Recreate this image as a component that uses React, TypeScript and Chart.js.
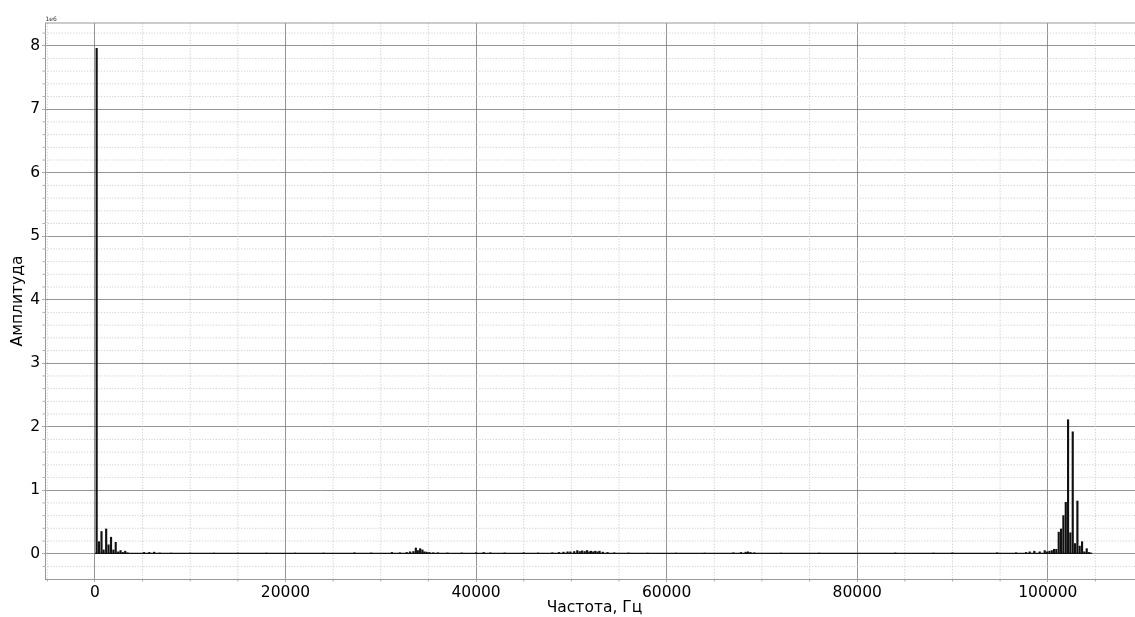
import React, { useEffect, useRef } from "react";
import { Chart, registerables } from "chart.js";

Chart.register(...registerables);

// Spectrum bars: frequency (Hz) and amplitude (in units of 1e6)
const freqHz = [
  180, 420, 690, 910, 1180, 1430, 1690, 1940, 2180, 2440, 2690, 2930, 3180, 3420,
  5150, 5700, 6220, 6800, 8000, 10000, 12500, 15000, 18000, 21000, 24000,
  27240, 29000, 31170, 32000, 32720, 33070, 33420, 33680, 33890, 34130, 34370, 34580,
  34820, 35100, 35500, 36000, 37000, 38500, 40000, 40800, 41500, 43000, 45000, 46500,
  48000, 48700, 49180, 49600, 49900, 50300, 50620, 50880, 51130, 51400, 51650, 51900,
  52060, 52300, 52510, 52750, 52960, 53300, 53800, 54500, 56000, 58000, 61000, 64000,
  67000, 67800, 68300, 68540, 68800, 69200, 72000, 76000, 84000, 88000, 90000,
  94680, 96670, 97720, 98100, 98590, 99150,
  99680, 99920, 100170, 100420, 100660, 100900, 101150, 101400, 101640, 101890,
  102130, 102370, 102620, 102860, 103110, 103350, 103600, 103840, 104090, 104330, 104570,
];
const amplitudeM = [
  7.96, 0.19, 0.35, 0.06, 0.39, 0.14, 0.26, 0.06, 0.18, 0.03, 0.05, 0.02, 0.04, 0.015,
  0.02, 0.02, 0.025, 0.012, 0.01, 0.01, 0.01, 0.01, 0.01, 0.01, 0.01,
  0.015, 0.012, 0.02, 0.015, 0.02, 0.03, 0.035, 0.09, 0.05, 0.08, 0.06, 0.03,
  0.025, 0.02, 0.015, 0.015, 0.012, 0.012, 0.015, 0.02, 0.015, 0.012, 0.015, 0.012,
  0.015, 0.02, 0.025, 0.03, 0.03, 0.035, 0.05, 0.035, 0.045, 0.035, 0.05, 0.03,
  0.04, 0.03, 0.04, 0.03, 0.04, 0.025, 0.02, 0.015, 0.012, 0.01, 0.01, 0.01,
  0.015, 0.02, 0.025, 0.03, 0.02, 0.015, 0.01, 0.01, 0.012, 0.01, 0.012,
  0.015, 0.015, 0.02, 0.03, 0.04, 0.03,
  0.05, 0.03, 0.04, 0.05, 0.07, 0.07, 0.34, 0.39, 0.6, 0.81,
  2.11, 0.33, 1.92, 0.16, 0.83, 0.12, 0.19, 0.03, 0.08, 0.02, 0.01,
];

// Noise floor that darkens the zero line across the spectrum
const noiseFloorHz = [0, 104600];
const noiseFloorM = [0.006, 0.006];

const xTickValues = [0, 20000, 40000, 60000, 80000, 100000];
const yTickValues = [0, 1, 2, 3, 4, 5, 6, 7, 8];
const xMinorStep = 5000;
const yMinorStep = 0.2;
const xRange = [-5240, 110100];
const yRange = [-0.398, 8.358];

const FONT = "'DejaVu Sans', 'Liberation Sans', sans-serif";

const minorGridPlugin = {
  id: "minorGrid",
  beforeDatasetsDraw(chart: any) {
    const { ctx, chartArea } = chart;
    const xs = chart.scales.x;
    const ys = chart.scales.y;
    ctx.save();
    ctx.lineWidth = 0.8;
    // minor vertical
    const xStart = Math.ceil(xs.min / xMinorStep) * xMinorStep;
    for (let v = xStart; v <= xs.max; v += xMinorStep) {
      if (Math.abs(v % 20000) < 1e-6) continue;
      const px = xs.getPixelForValue(v);
      ctx.strokeStyle = "#c4c4c4";
      ctx.setLineDash([1.2, 1.6]);
      ctx.beginPath();
      ctx.moveTo(px, chartArea.top);
      ctx.lineTo(px, chartArea.bottom);
      ctx.stroke();
      ctx.setLineDash([]);
      ctx.strokeStyle = "#999";
      ctx.beginPath();
      ctx.moveTo(px, chartArea.bottom);
      ctx.lineTo(px, chartArea.bottom + 2.5);
      ctx.stroke();
    }
    // minor horizontal
    const yStart = Math.ceil(ys.min / yMinorStep);
    for (let k = yStart; k * yMinorStep <= ys.max + 1e-9; k++) {
      if (k % 5 === 0) continue;
      const v = k * yMinorStep;
      const py = ys.getPixelForValue(v);
      ctx.strokeStyle = "#c4c4c4";
      ctx.setLineDash([1.2, 1.6]);
      ctx.beginPath();
      ctx.moveTo(chartArea.left, py);
      ctx.lineTo(chartArea.right, py);
      ctx.stroke();
      ctx.setLineDash([]);
      ctx.strokeStyle = "#999";
      ctx.beginPath();
      ctx.moveTo(chartArea.left - 2.5, py);
      ctx.lineTo(chartArea.left, py);
      ctx.stroke();
    }
    // top spine
    ctx.strokeStyle = "#999";
    ctx.lineWidth = 1;
    ctx.beginPath();
    ctx.moveTo(chartArea.left, chartArea.top);
    ctx.lineTo(chartArea.right, chartArea.top);
    ctx.stroke();
    ctx.restore();
  },
  afterDraw(chart: any) {
    const { ctx, chartArea } = chart;
    ctx.save();
    ctx.fillStyle = "#333";
    ctx.font = `6px ${FONT}`;
    ctx.textBaseline = "alphabetic";
    ctx.textAlign = "left";
    ctx.fillText("1e6", chartArea.left + 0.5, chartArea.top - 2);
    ctx.restore();
  },
};

export default function App() {
  const ref = useRef<HTMLCanvasElement | null>(null);

  useEffect(() => {
    if (!ref.current) return;
    const bars = freqHz.map((f, i) => ({ x: f, y: amplitudeM[i] }));
    const floor = noiseFloorHz.map((f, i) => ({ x: f, y: noiseFloorM[i] }));
    const chart = new Chart(ref.current, {
      type: "bar",
      data: {
        datasets: [
          {
            type: "bar",
            data: bars,
            backgroundColor: "#111",
            borderWidth: 0,
            barThickness: 1.5,
          } as any,
          {
            type: "line",
            data: floor,
            borderColor: "#111",
            borderWidth: 1.2,
            pointRadius: 0,
            fill: false,
          } as any,
        ],
      },
      options: {
        responsive: false,
        animation: false,
        events: [],
        layout: { padding: { top: 23, left: 0, right: 0, bottom: 0 } },
        plugins: { legend: { display: false }, tooltip: { enabled: false } },
        scales: {
          x: {
            type: "linear",
            min: xRange[0],
            max: xRange[1],
            offset: false,
            afterBuildTicks: (s: any) => {
              s.ticks = xTickValues.map((v) => ({ value: v }));
            },
            afterFit: (s: any) => {
              s.height = 38;
            },
            ticks: {
              autoSkip: false,
              maxRotation: 0,
              color: "#000",
              padding: 2,
              font: { family: FONT, size: 15.5 },
              callback: (v: any) => String(v),
            },
            grid: {
              offset: false,
              color: "#7a7a7a",
              lineWidth: 0.8,
              tickLength: 3,
              tickColor: "#999",
            },
            border: { display: true, color: "#999", width: 1 },
            title: {
              display: true,
              text: "Частота, Гц",
              color: "#000",
              font: { family: FONT, size: 15.5 },
              padding: { top: 0, bottom: 0 },
            },
          },
          y: {
            type: "linear",
            min: yRange[0],
            max: yRange[1],
            afterBuildTicks: (s: any) => {
              s.ticks = yTickValues.map((v) => ({ value: v }));
            },
            afterFit: (s: any) => {
              s.width = 45;
            },
            ticks: {
              color: "#000",
              padding: 2,
              font: { family: FONT, size: 15.5 },
              callback: (v: any) => String(v),
            },
            grid: {
              offset: false,
              color: "#7a7a7a",
              lineWidth: 0.8,
              tickLength: 3,
              tickColor: "#999",
            },
            border: { display: true, color: "#999", width: 1 },
            title: {
              display: true,
              text: "Амплитуда",
              color: "#000",
              font: { family: FONT, size: 15.5 },
              padding: { top: 8.7, bottom: 0 },
            },
          },
        },
      },
      plugins: [minorGridPlugin],
    } as any);
    return () => chart.destroy();
  }, []);

  return (
    <div
      style={{
        position: "absolute",
        left: 0,
        top: 0,
        width: 1135,
        height: 617,
        overflow: "hidden",
        background: "#fff",
      }}
    >
      <canvas ref={ref} width={1144} height={617} style={{ display: "block" }} />
    </div>
  );
}
